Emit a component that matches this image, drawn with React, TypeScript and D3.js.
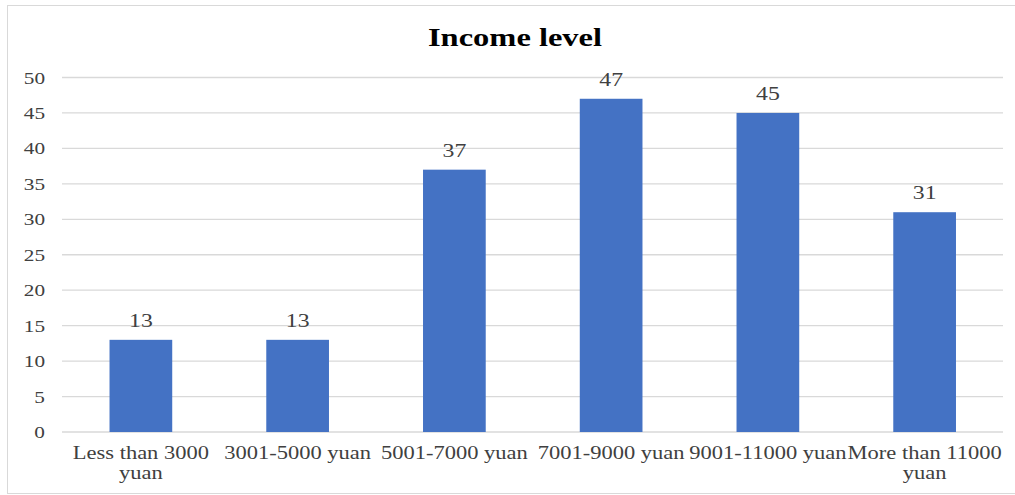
import React from "react";
import * as d3 from "d3";

const categories = [
  ["Less than 3000", "yuan"],
  ["3001-5000 yuan"],
  ["5001-7000 yuan"],
  ["7001-9000 yuan"],
  ["9001-11000 yuan"],
  ["More than 11000", "yuan"],
];
const values = [13, 13, 37, 47, 45, 31];
const yTicks = [0, 5, 10, 15, 20, 25, 30, 35, 40, 45, 50];
const title = "Income level";

const W = 1015;
const H = 495;
const SX = 1.25;
const FONT = "'Liberation Serif', 'Times New Roman', serif";

export default function App() {
  const x = d3
    .scaleBand<number>()
    .domain(d3.range(values.length))
    .range([62.5, 1003])
    .paddingInner(0.6)
    .paddingOuter(0.3);
  const y = d3.scaleLinear().domain([0, 50]).range([432, 77.5]);

  const T = (px: number, py: number, content: React.ReactNode, props: any = {}) => (
    <text
      transform={`translate(${px},${py}) scale(${SX},1)`}
      fontFamily={FONT}
      fill="#404040"
      {...props}
    >
      {content}
    </text>
  );

  return (
    <svg
      width={W}
      height={H}
      style={{ position: "absolute", left: 0, top: 0 }}
    >
      <rect x={0} y={0} width={W} height={H} fill="#fff" />
      <rect x={7.5} y={5.5} width={1010} height={488} fill="none" stroke="#d9d9d9" />
      {T(515, 46, title, {
        textAnchor: "middle",
        fontSize: 26,
        fontWeight: "bold",
        fill: "#000",
      })}
      {yTicks.map((t) => (
        <g key={t}>
          <line x1={62} x2={1003} y1={y(t)} y2={y(t)} stroke="#d9d9d9" strokeWidth={1.3} />
          {T(45, y(t) + 6, String(t), { textAnchor: "end", fontSize: 17 })}
        </g>
      ))}
      {values.map((v, i) => {
        const bx = x(i)!;
        const bw = x.bandwidth();
        const cx = bx + bw / 2;
        return (
          <g key={i}>
            <rect x={bx} y={y(v)} width={bw} height={y(0) - y(v)} fill="#4472c4" />
            {T(cx, y(v) - 13, String(v), { textAnchor: "middle", fontSize: 19 })}
            {categories[i].map((line, j) =>
              T(cx, 459 + j * 20, line, {
                key: j,
                textAnchor: "middle",
                fontSize: 18,
              })
            )}
          </g>
        );
      })}
    </svg>
  );
}
